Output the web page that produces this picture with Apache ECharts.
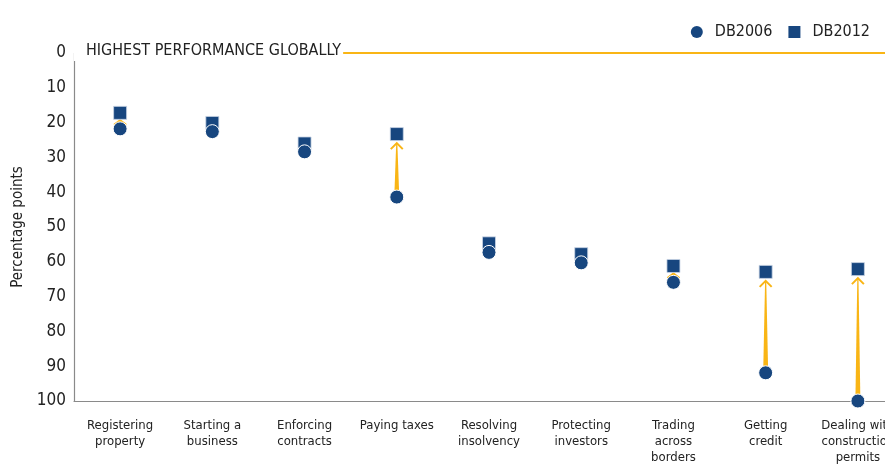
<!DOCTYPE html>
<html>
<head>
<meta charset="utf-8">
<script src="https://cdn.jsdelivr.net/npm/echarts@6/dist/echarts.min.js"></script>
<style>
  html, body { margin: 0; padding: 0; background: #fff; }
  #chart { width: 885px; height: 464px; }
</style>
</head>
<body>
<div id="chart"></div>
<script>
const categories = ['Registering\nproperty', 'Starting a\nbusiness', 'Enforcing\ncontracts', 'Paying taxes',
  'Resolving\ninsolvency', 'Protecting\ninvestors', 'Trading\nacross\nborders', 'Getting\ncredit',
  'Dealing with\nconstruction\npermits']
const db2006 = [21.8, 22.6, 28.4, 41.4, 57.3, 60.3, 65.9, 91.9, 100]
const db2012 = [17.2, 20.1, 26.0, 23.3, 54.7, 57.8, 61.2, 62.9, 62.1]
const yTicks = [0, 100, 10]  // min, max, step

const navy = '#17467f'
const gold = '#f9b515'
const font = '"DejaVu Sans Condensed", "DejaVu Sans", sans-serif'

// one row per category for the arrows: [index, from, to]
const arrows = categories.map((c, i) => [i, db2006[i], db2012[i]])

const chart = echarts.init(document.getElementById('chart'))

const option = {
  animation: false,
  textStyle: { fontFamily: font },
  grid: { left: 74, top: 53, width: 830, height: 348, outerBoundsMode: 'none', containLabel: false },
  legend: {
    right: 10, top: 19,
    itemWidth: 12, itemHeight: 12, itemGap: 16,
    itemStyle: { borderWidth: 0 },
    textStyle: { fontSize: 16, color: '#222', fontFamily: font, padding: [0, 0, 0, 7] },
    data: [{ name: 'DB2006', icon: 'circle' }, { name: 'DB2012', icon: 'rect' }]
  },
  xAxis: {
    type: 'category',
    data: categories,
    axisTick: { show: false },
    axisLine: { onZero: false, lineStyle: { color: '#8a8a8a', width: 1.2 } },
    axisLabel: { interval: 0, fontSize: 13, lineHeight: 16, color: '#222', margin: 17, verticalAlign: 'top' }
  },
  yAxis: {
    type: 'value',
    inverse: true,
    min: yTicks[0], max: yTicks[1], interval: yTicks[2],
    name: 'Percentage points',
    nameLocation: 'middle', nameRotate: 90, nameGap: 46,
    nameTextStyle: { fontSize: 15, color: '#222', fontFamily: font },
    splitLine: { show: false },
    axisTick: { show: false },
    axisLine: { show: true, lineStyle: { color: '#8a8a8a', width: 1.2 } },
    axisLabel: { fontSize: 17, color: '#222', margin: 8 }
  },
  graphic: [{
    type: 'text', left: 74, top: 41, z: 100,
    style: {
      text: 'HIGHEST PERFORMANCE GLOBALLY',
      font: '16px ' + font, fill: '#222',
      backgroundColor: '#fff', padding: [2, 2, 2, 12]
    }
  }],
  series: [
    {
      type: 'custom',
      name: 'arrows',
      z: 1,
      data: arrows,
      renderItem(params, api) {
        const p1 = api.coord([api.value(0), api.value(1)])
        const p2 = api.coord([api.value(0), api.value(2)])
        const x = p1[0]
        const gap = p1[1] - p2[1]
        const children = []
        if (gap < 13) return { type: 'group', children }
        const tip = p2[1] + (gap > 30 ? 9 : 7.5)
        const h = gap > 30 ? 6 : 4.5
        if (p1[1] - tip > 20) {
          children.push({
            type: 'polygon',
            shape: { points: [[x - 2.5, p1[1]], [x + 2.5, p1[1]], [x + 0.6, tip + 1], [x - 0.6, tip + 1]] },
            style: { fill: gold }
          })
        }
        children.push({
          type: 'polyline',
          shape: { points: [[x - 6, tip + h], [x, tip], [x + 6, tip + h]] },
          style: { stroke: gold, lineWidth: 2, fill: null }
        })
        return { type: 'group', children }
      }
    },
    {
      type: 'scatter',
      name: 'DB2012',
      symbol: 'rect',
      symbolSize: 13,
      z: 3,
      itemStyle: { color: navy, opacity: 1, borderColor: '#c9d4e4', borderWidth: 0.8 },
      data: db2012,
      markLine: {
        silent: true, symbol: 'none',
        label: { show: false },
        lineStyle: { color: gold, width: 2, type: 'solid' },
        data: [{ yAxis: 0 }]
      }
    },
    {
      type: 'scatter',
      name: 'DB2006',
      symbol: 'circle',
      symbolSize: 14,
      z: 4,
      itemStyle: { color: navy, opacity: 1, borderColor: '#fff', borderWidth: 1 },
      data: db2006
    }
  ]
}

chart.setOption(option)
</script>
</body>
</html>
